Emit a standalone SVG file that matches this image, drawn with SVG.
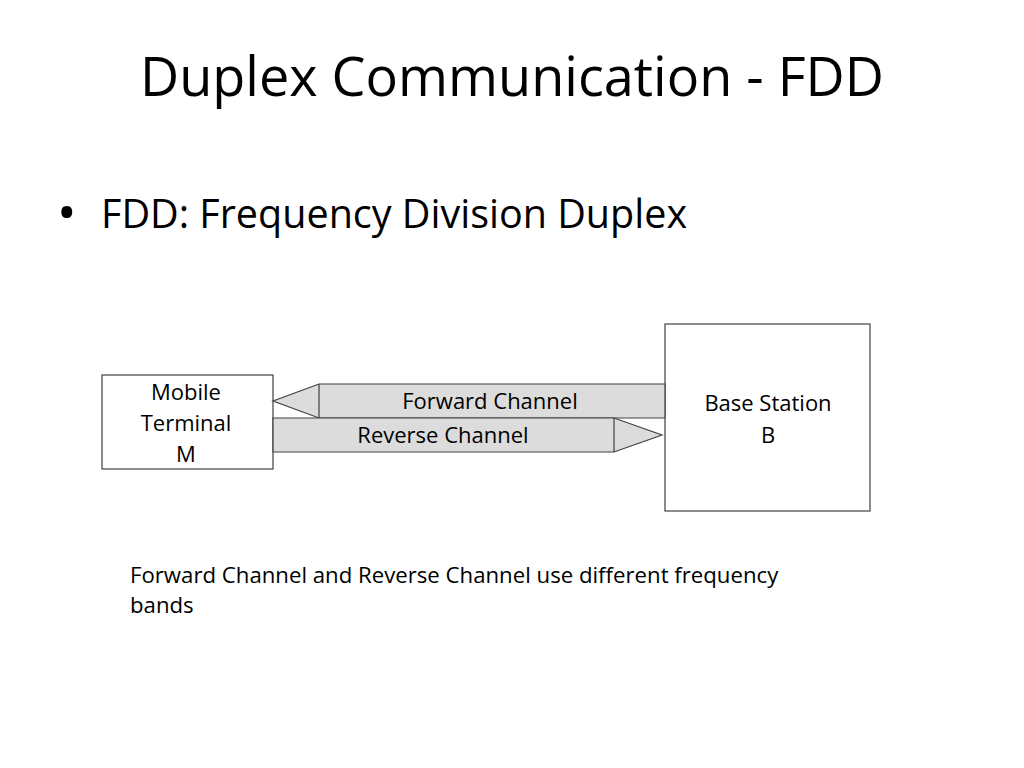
<svg xmlns="http://www.w3.org/2000/svg" width="1024" height="768" viewBox="0 0 1024 768">
<style>
text{font-family:"Open Sans","Liberation Sans",sans-serif;fill:#000}
.box{fill:#fff;stroke:#404040;stroke-width:1.2}
.ch{fill:#dcdcdc;stroke:#404040;stroke-width:1.2}
.lbl{font-size:22px;text-anchor:middle}
</style>
<rect width="1024" height="768" fill="#fff"/>
<text x="512" y="96" font-size="54" text-anchor="middle">Duplex Communication - FDD</text>
<text x="57" y="231" font-size="52">•</text>
<text x="101" y="228" font-size="39.5">FDD: Frequency Division Duplex</text>
<g id="mobile">
<rect class="box" x="102" y="375" width="171" height="94"/>
<text class="lbl" x="186" y="400">Mobile</text>
<text class="lbl" x="186" y="431">Terminal</text>
<text class="lbl" x="186" y="462">M</text>
</g>
<g id="base">
<rect class="box" x="665" y="324" width="205" height="187"/>
<text class="lbl" x="768" y="411">Base Station</text>
<text class="lbl" x="768" y="443">B</text>
</g>
<g id="connectors">
<g id="forward">
<polygon class="ch" points="665,384 319,384 273,401 319,418 665,418"/>
<line x1="319" y1="384" x2="319" y2="418" stroke="#404040" stroke-width="1.2"/>
<text class="lbl" x="490" y="409">Forward Channel</text>
</g>
<g id="reverse">
<polygon class="ch" points="273,418 614,418 662,435 614,452 273,452"/>
<line x1="614" y1="418" x2="614" y2="452" stroke="#404040" stroke-width="1.2"/>
<text class="lbl" x="443" y="443">Reverse Channel</text>
</g>
</g>
<text x="130" y="583" font-size="22.2">Forward Channel and Reverse Channel use different frequency</text>
<text x="130" y="613" font-size="22.2">bands</text>
</svg>
